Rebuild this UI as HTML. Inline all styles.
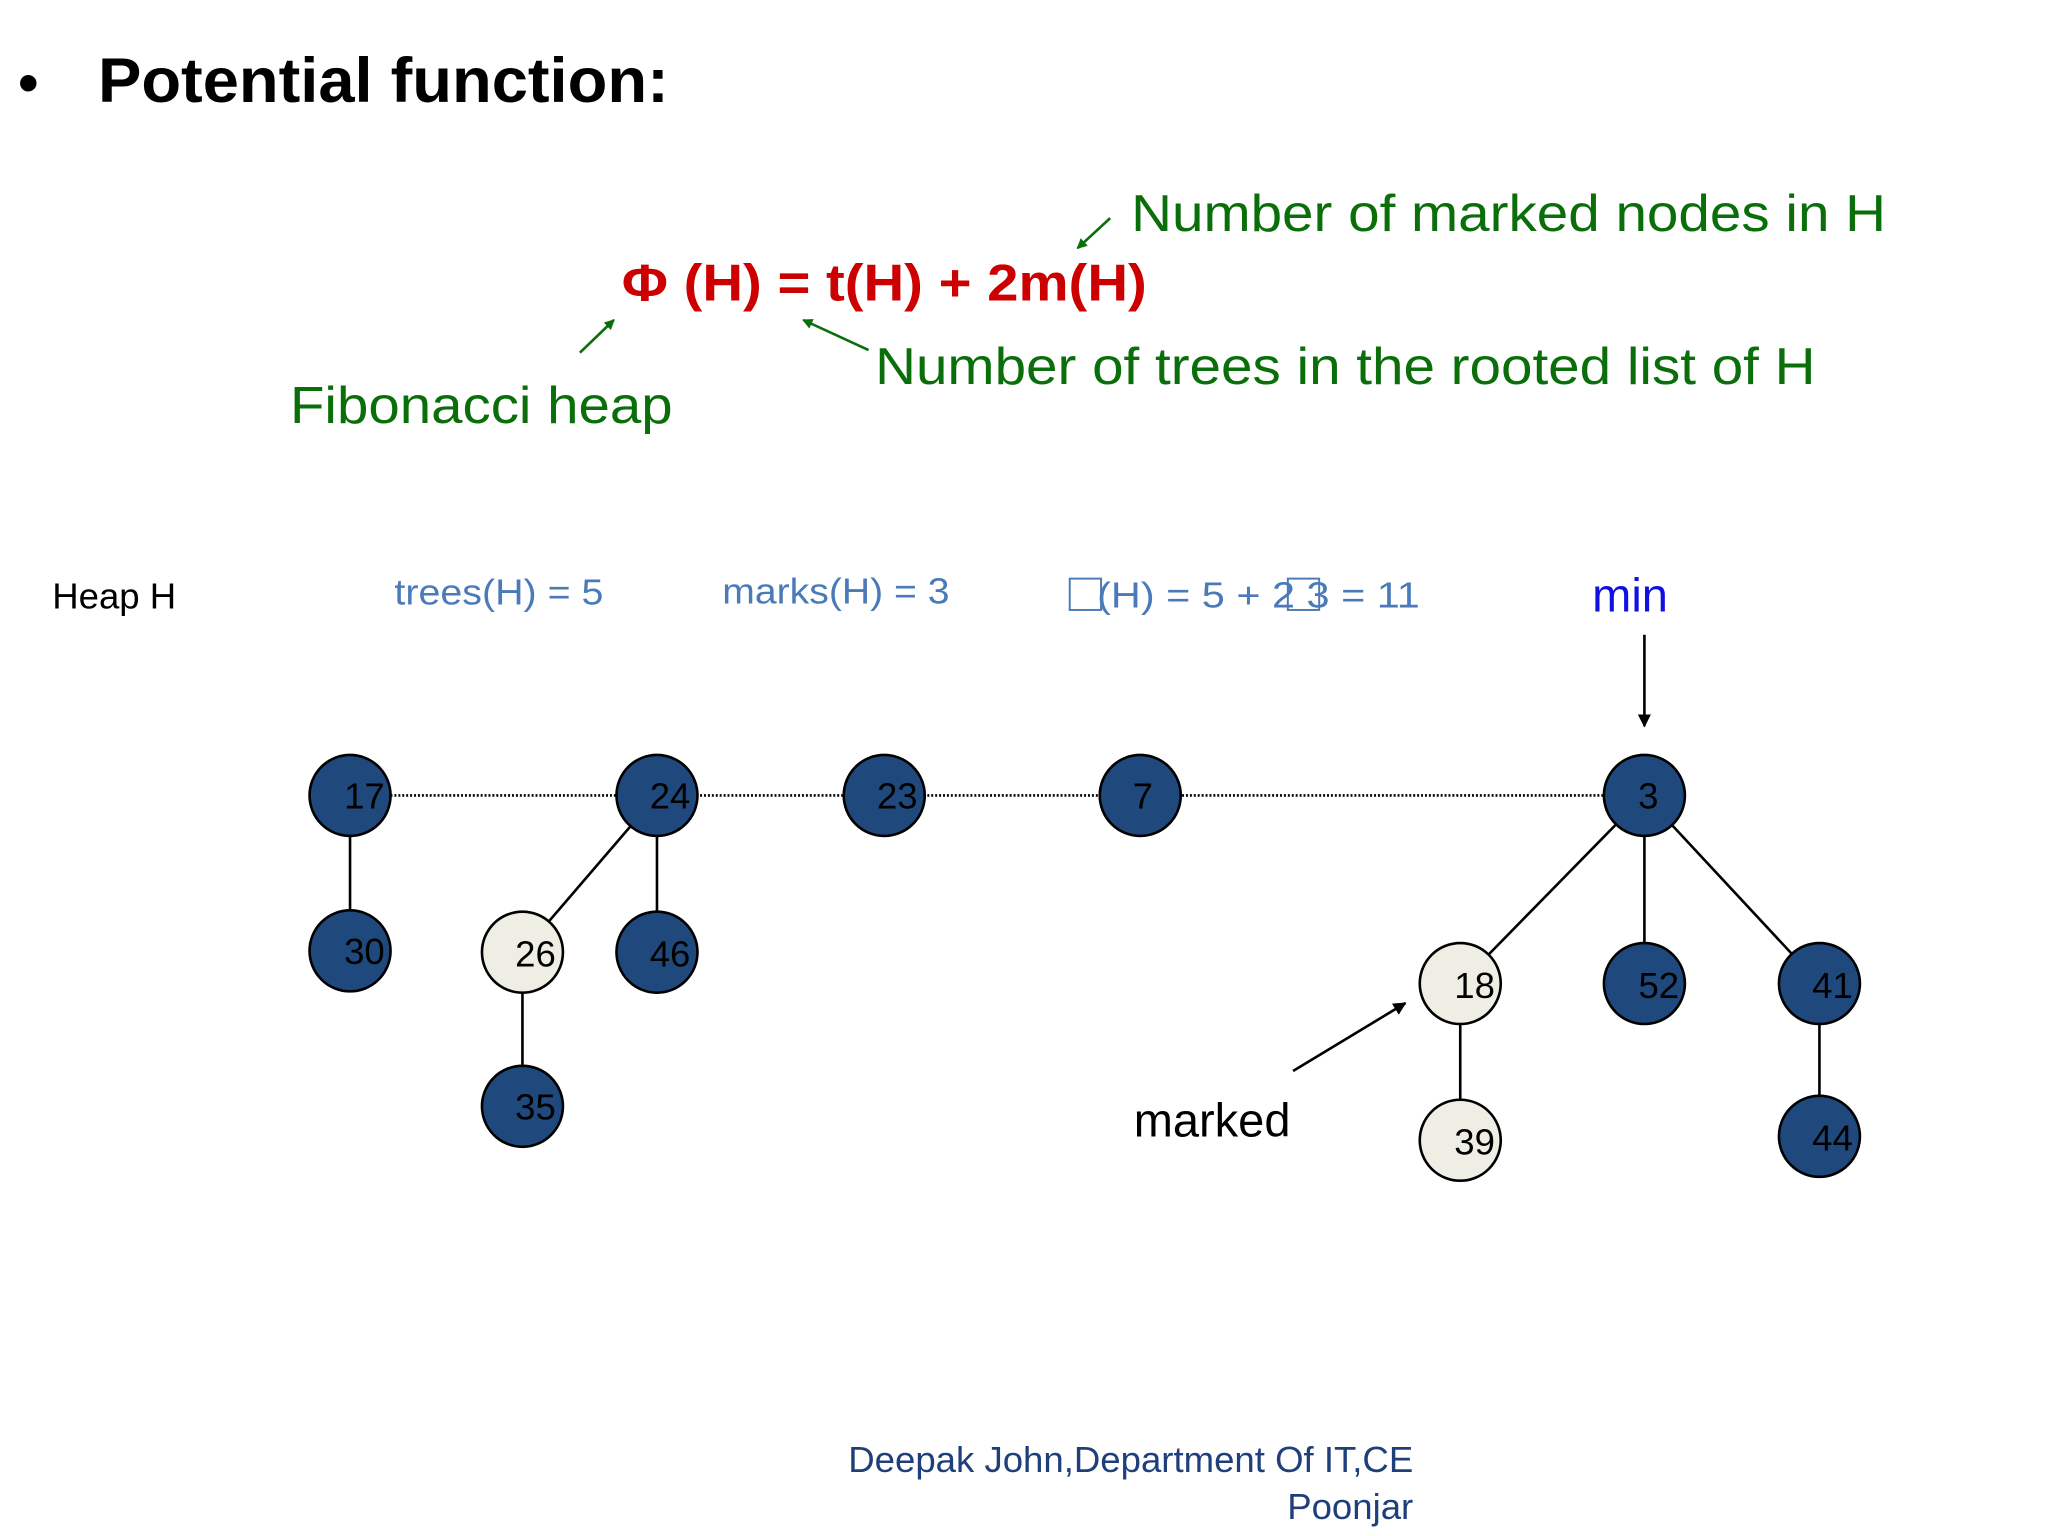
<!DOCTYPE html>
<html><head><meta charset="utf-8"><style>html,body{margin:0;padding:0;background:#fff}svg{display:block}</style></head>
<body>
<svg width="2048" height="1536" viewBox="0 0 1568 1176" xmlns="http://www.w3.org/2000/svg" font-family="Liberation Sans, sans-serif">
<defs>
<marker id="ag" markerWidth="8" markerHeight="8" refX="7" refY="4" orient="auto" markerUnits="userSpaceOnUse"><path d="M0,0 L8,4 L0,8 z" fill="#0a6e0a"/></marker>
<marker id="ak" markerWidth="10" markerHeight="10" refX="9" refY="5" orient="auto" markerUnits="userSpaceOnUse"><path d="M0,0 L10,5 L0,10 z" fill="#000"/></marker>
</defs>
<rect width="1568" height="1176" fill="#fff"/>
<text x="14" y="78" font-size="44" font-weight="bold">•</text>
<text x="75" y="78" font-size="48" font-weight="bold" textLength="437" lengthAdjust="spacingAndGlyphs">Potential function:</text>
<text x="866" y="177" font-size="40" fill="#0a6e0a" textLength="578" lengthAdjust="spacingAndGlyphs">Number of marked nodes in H</text>
<text x="476" y="230" font-size="40" font-weight="bold" fill="#cc0000" textLength="402" lengthAdjust="spacingAndGlyphs">Φ (H) = t(H) + 2m(H)</text>
<text x="670" y="294" font-size="40" fill="#0a6e0a" textLength="720" lengthAdjust="spacingAndGlyphs">Number of trees in the rooted list of H</text>
<text x="222" y="324" font-size="40" fill="#0a6e0a" textLength="293" lengthAdjust="spacingAndGlyphs">Fibonacci heap</text>
<g stroke="#0a6e0a" stroke-width="2" fill="none">
<line x1="850" y1="167" x2="825" y2="190" marker-end="url(#ag)"/>
<line x1="665" y1="268" x2="615" y2="245" marker-end="url(#ag)"/>
<line x1="444" y1="270" x2="470" y2="245" marker-end="url(#ag)"/>
</g>
<text x="40" y="466" font-size="28">Heap H</text>
<g fill="#4a7ab8" font-size="28">
<text x="302" y="463" textLength="160" lengthAdjust="spacingAndGlyphs">trees(H) = 5</text>
<text x="553" y="462" textLength="174" lengthAdjust="spacingAndGlyphs">marks(H) = 3</text>
<text x="840" y="465" textLength="247" lengthAdjust="spacingAndGlyphs">(H) = 5 + 2   3 = 11</text>
</g>
<rect x="819" y="443" width="24" height="24" fill="none" stroke="#4a7ab8" stroke-width="1.5"/>
<rect x="986" y="443" width="24" height="24" fill="none" stroke="#4a7ab8" stroke-width="1.5"/>
<text x="1219" y="468" font-size="36" fill="#1010e0">min</text>
<line x1="1259" y1="486" x2="1259" y2="556" stroke="#000" stroke-width="2" marker-end="url(#ak)"/>
<line x1="299" y1="609" x2="1228" y2="609" stroke="#000" stroke-width="2" stroke-dasharray="1.5,1.5"/>
<g stroke="#000" stroke-width="2">
<line x1="268" y1="609" x2="268" y2="728"/>
<line x1="503" y1="609" x2="400" y2="729"/>
<line x1="503" y1="609" x2="503" y2="729"/>
<line x1="400" y1="729" x2="400" y2="847"/>
<line x1="1259" y1="609" x2="1118" y2="753"/>
<line x1="1259" y1="609" x2="1259" y2="753"/>
<line x1="1259" y1="609" x2="1393" y2="753"/>
<line x1="1118" y1="753" x2="1118" y2="873"/>
<line x1="1393" y1="753" x2="1393" y2="870"/>
</g>
<g stroke="#000" stroke-width="2" fill="#1f497d">
<circle cx="268" cy="609" r="31"/><circle cx="503" cy="609" r="31"/><circle cx="677" cy="609" r="31"/>
<circle cx="873" cy="609" r="31"/><circle cx="1259" cy="609" r="31"/><circle cx="268" cy="728" r="31"/>
<circle cx="503" cy="729" r="31"/><circle cx="400" cy="847" r="31"/><circle cx="1259" cy="753" r="31"/>
<circle cx="1393" cy="753" r="31"/><circle cx="1393" cy="870" r="31"/>
</g>
<g stroke="#000" stroke-width="2" fill="#eeeee4">
<circle cx="400" cy="729" r="31"/><circle cx="1118" cy="753" r="31"/><circle cx="1118" cy="873" r="31"/>
</g>
<g font-size="28" text-anchor="middle" fill="#000">
<text x="279" y="619">17</text><text x="513" y="619">24</text><text x="687" y="619">23</text>
<text x="875" y="619">7</text><text x="1262" y="619">3</text><text x="279" y="738">30</text>
<text x="410" y="740">26</text><text x="513" y="740">46</text><text x="410" y="857">35</text>
<text x="1129" y="764">18</text><text x="1270" y="764">52</text><text x="1403" y="764">41</text>
<text x="1129" y="884">39</text><text x="1403" y="881">44</text>
</g>
<text x="868" y="870" font-size="36">marked</text>
<line x1="990" y1="820" x2="1076" y2="768" stroke="#000" stroke-width="2" marker-end="url(#ak)"/>
<g font-size="28" fill="#1f3f7a" text-anchor="end">
<text x="1082" y="1127">Deepak John,Department Of IT,CE</text>
<text x="1082" y="1163">Poonjar</text>
</g>
</svg>
</body></html>
